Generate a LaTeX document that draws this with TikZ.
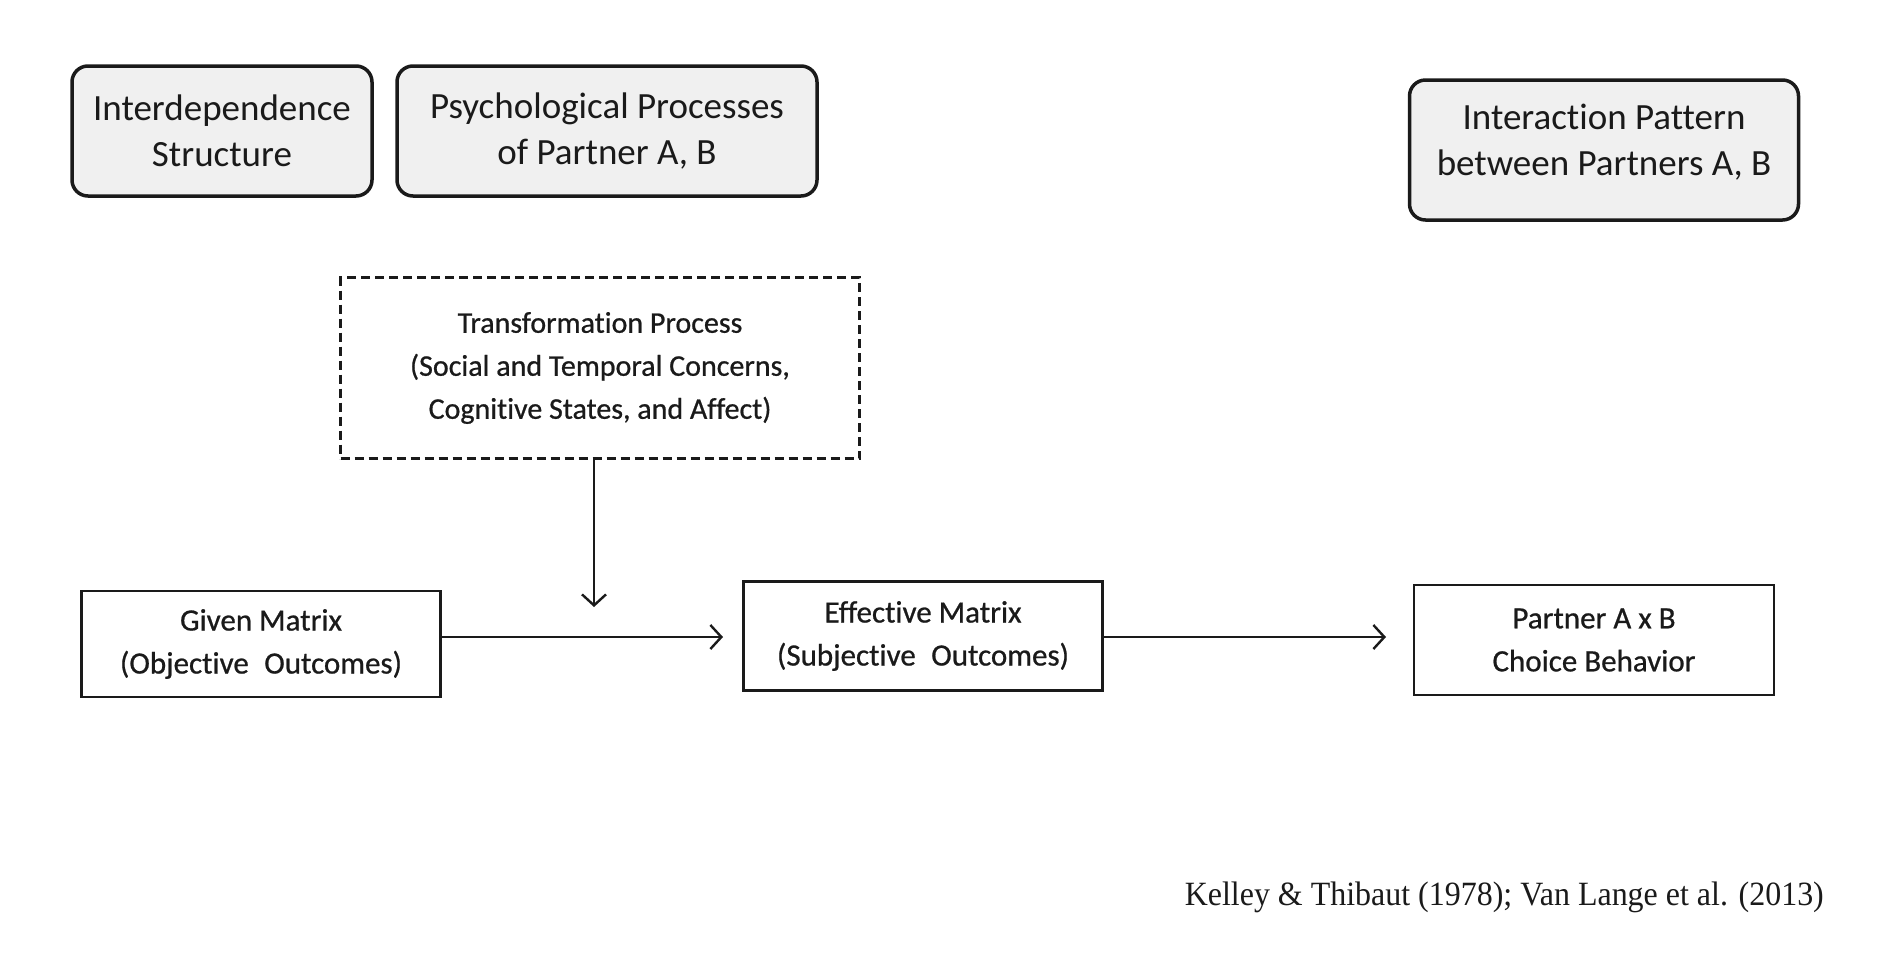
\documentclass[tikz,border=0pt]{standalone}
\usepackage{fontspec}
\setmainfont[Ligatures=NoCommon]{Carlito}
\newfontfamily\semib[Ligatures=NoCommon,FakeBold=0.7]{Carlito}
\newfontfamily\citefont[FakeStretch=0.94]{Liberation Serif}
\usetikzlibrary{arrows.meta}
\definecolor{boxgray}{HTML}{F0F0F0}
\definecolor{ink}{HTML}{1A1A1A}
\begin{document}
\begin{tikzpicture}[x=1pt,y=-1pt,
  roundbox/.style={draw=ink, line width=3.5pt, fill=boxgray, rounded corners=16pt,
    align=center, inner sep=0pt, font=\fontsize{37}{46}\selectfont, text=ink},
  boxtext/.style={align=center, inner sep=0pt, font=\fontsize{37}{46}\selectfont, text=ink},
  dashbox/.style={draw=ink, line width=2.5pt, dash pattern=on 9pt off 5pt, fill=white,
    align=center, inner sep=0pt, font=\semib\fontsize{30}{43}\selectfont, text=ink},
  rectbox/.style={draw=ink, line width=2.2pt, fill=white,
    align=center, inner sep=0pt, font=\semib\fontsize{31}{43}\selectfont, text=ink},
  arr/.style={draw=ink, line width=2.4pt, -{Straight Barb[length=11pt,width=24pt,line width=2.4pt]}},
  citestyle/.style={inner sep=0pt, font=\citefont\fontsize{34}{40}\selectfont, text=ink}
]
\useasboundingbox (0,0) rectangle (1878,954);
\node[roundbox, minimum width=300pt, minimum height=130pt] (ids) at (222,131) {Interdependence\\Structure};
\node[roundbox, minimum width=420pt, minimum height=130pt] (pp) at (607,131) {Psychological Processes\\of Partner A, B};
\node[roundbox, minimum width=389pt, minimum height=140pt] (ip) at (1604,150) {};
\node[boxtext] (ipt) at (1604,142) {Interaction Pattern\\between Partners A, B};
\node[dashbox, minimum width=519pt, minimum height=181pt] (tp) at (600,368) {Transformation Process\\(Social and Temporal Concerns,\\Cognitive States, and Affect)};
\node[rectbox, minimum width=359pt, minimum height=106pt] (gm) at (261,644) {Given Matrix\\(Objective\enspace Outcomes)};
\node[rectbox, minimum width=359pt, minimum height=109pt] (em) at (923,636) {Effective Matrix\\(Subjective\enspace Outcomes)};
\node[rectbox, minimum width=360pt, minimum height=110pt] (pc) at (1594,640) {Partner A x B\\Choice Behavior};
\coordinate (t1) at (594,607);
\coordinate (t2) at (723,637);
\coordinate (t3) at (1386,637);
\draw[arr] (tp.south -| t1) -- (t1);
\draw[arr] (gm.east |- t2) -- (t2);
\draw[arr] (em.east |- t3) -- (t3);
\node[citestyle, anchor=east] (cite) at (1824,897) {Kelley \& Thibaut (1978); Van Lange et al. (2013)};
\end{tikzpicture}
\end{document}
